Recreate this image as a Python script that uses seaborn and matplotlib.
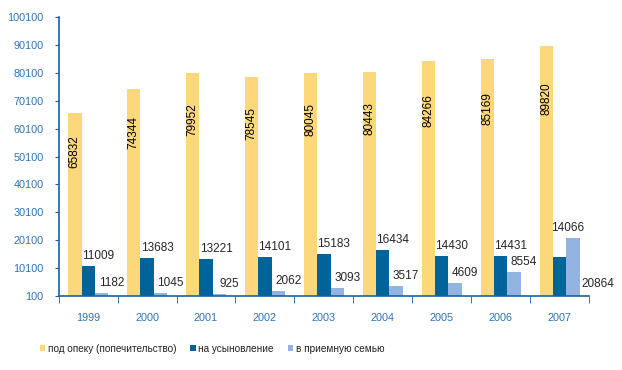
import matplotlib
matplotlib.use("Agg")
import matplotlib.pyplot as plt
import seaborn as sns
import pandas as pd
import numpy as np

# data
years = ["1999", "2000", "2001", "2002", "2003", "2004", "2005", "2006", "2007"]
guardianship = [65832, 74344, 79952, 78545, 80045, 80443, 84266, 85169, 89820]
adoption = [11009, 13683, 13221, 14101, 15183, 16434, 14430, 14431, 14066]
foster = [1182, 1045, 925, 2062, 3093, 3517, 4609, 8554, 20864]
series = ["под опеку (попечительство)", "на усыновление", "в приемную семью"]
colors = ["#FDD87A", "#00649A", "#93B3E0"]

df = pd.DataFrame({
    "year": years * 3,
    "value": guardianship + adoption + foster,
    "series": [series[0]] * 9 + [series[1]] * 9 + [series[2]] * 9,
})

sns.set_style("white")
plt.rcParams["font.family"] = ["Liberation Sans", "DejaVu Sans"]
plt.rcParams["font.size"] = 8

fig = plt.figure(figsize=(6.22, 3.70), dpi=100)
ax = fig.add_axes([0.0944, 0.2, 0.8526, 0.754])

sns.barplot(data=df, x="year", y="value", hue="series", hue_order=series,
            palette=colors, width=0.68, gap=0, saturation=1, ax=ax,
            legend=True, errorbar=None, edgecolor="none")

ax.set_ylim(100, 100100)
ax.set_yticks(np.arange(100, 100101, 10000))
ax.set_xlim(-0.5, 8.5)
ax.set_xlabel("")
ax.set_ylabel("")

axis_col = "#1F5F9E"
tick_col = "#2E74B5"
for s in ["top", "right"]:
    ax.spines[s].set_visible(False)
for s in ["left", "bottom"]:
    ax.spines[s].set_color(axis_col)
    ax.spines[s].set_linewidth(1.2)
ax.tick_params(axis="y", length=3, color=axis_col, labelcolor=tick_col, labelsize=7.8, pad=8, direction="out", left=True)
ax.set_xticks(np.arange(-0.5, 9, 1), minor=True)
ax.tick_params(axis="x", which="major", length=0, labelcolor=tick_col, labelsize=7.8, pad=12)
ax.tick_params(axis="x", which="minor", length=5, color=axis_col, direction="out", bottom=True)

bw = 0.68 / 3
xs = np.arange(len(years))

# vertical labels inside the yellow bars
for i, v in enumerate(guardianship):
    ax.text(xs[i] - bw, v * 0.79, str(v), rotation=90, ha="center", va="center",
            fontsize=8.5, color="black")

# labels over the blue bars
for i in range(len(years) - 1):
    ax.annotate(str(adoption[i]), (xs[i], adoption[i]), xytext=(10, 10),
                textcoords="offset pixels", ha="center", va="center", fontsize=8.5)
    ax.annotate(str(foster[i]), (xs[i] + bw, foster[i]), xytext=(10, 10),
                textcoords="offset pixels", ha="center", va="center", fontsize=8.5)

# 2007 labels are shifted in the original chart
ax.annotate(str(adoption[8]), (xs[8] + bw, foster[8]), xytext=(-5, 10),
            textcoords="offset pixels", ha="center", va="center", fontsize=8.5)
ax.annotate(str(foster[8]), (xs[8] + 2 * bw, 100), xytext=(12, 12),
            textcoords="offset pixels", ha="center", va="center", fontsize=8.5)

leg = ax.legend(loc="lower left", bbox_to_anchor=(0.056, 0.03), bbox_transform=fig.transFigure,
                ncol=3, frameon=False, fontsize=7.2, handlelength=0.55, handleheight=0.55,
                handletextpad=0.25, columnspacing=1.4, borderpad=0)
for t in leg.get_texts():
    t.set_color("#222222")

fig.savefig("out.png", dpi=100)
